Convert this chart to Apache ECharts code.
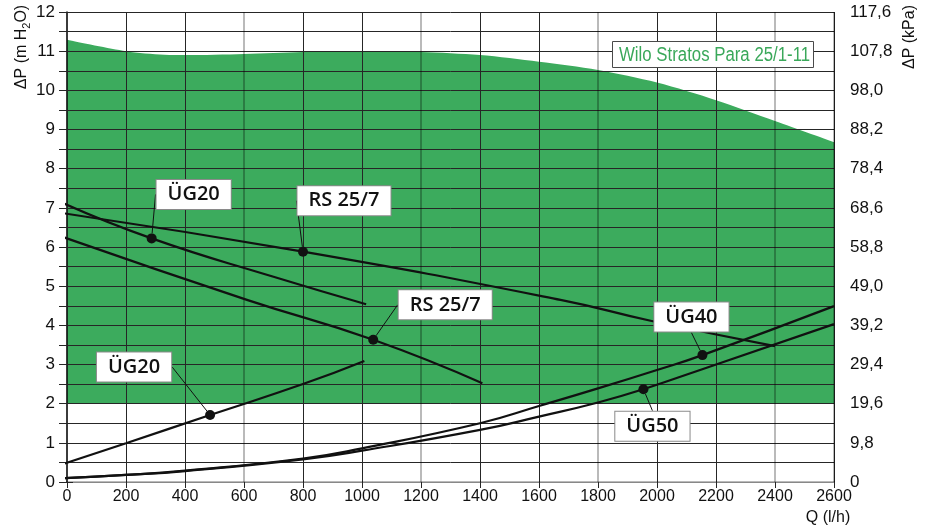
<!DOCTYPE html>
<html><head><meta charset="utf-8">
<script src="https://cdn.jsdelivr.net/npm/echarts@6/dist/echarts.min.js"></script>
<style>html,body{margin:0;padding:0;background:#fff}#c{width:932px;height:529px}</style>
</head><body><div id="c"></div>
<script>
// ---- data ----
const kPaLabels = ['0','9,8','19,6','29,4','39,2','49,0','58,8','68,6','78,4','88,2','98,0','107,8','117,6'];
const pumpQ = [-12, 200, 330, 400, 600, 800, 1000, 1200, 1400, 1600, 1800, 2000, 2200, 2400, 2600];
const pumpH = [11.31, 11.0, 10.91, 10.9, 10.93, 10.98, 11.0, 10.98, 10.9, 10.73, 10.52, 10.2, 9.75, 9.22, 8.68];
const pumpMinH = 2;
const ug20aQ = [-25, 287, 700, 1014];
const ug20aH = [7.16, 6.22, 5.24, 4.54];
const rsAQ = [-20, 800, 1673, 1982, 2400];
const rsAH = [6.87, 5.88, 4.65, 4.11, 3.47];
const rsBQ = [-12, 610, 1038, 1408];
const rsBH = [6.25, 4.65, 3.63, 2.52];
const ug20bQ = [-45, 200, 485, 800, 1008];
const ug20bH = [0.38, 0.99, 1.71, 2.5, 3.09];
const ug40Q = [-10, 200, 400, 800, 1000, 1400, 1600, 1800, 2000, 2154, 2600];
const ug40H = [0.1, 0.18, 0.29, 0.6, 0.86, 1.5, 1.94, 2.39, 2.86, 3.24, 4.49];
const ug50Q = [-10, 200, 400, 800, 1000, 1400, 1600, 1800, 1954, 2188, 2600];
const ug50H = [0.1, 0.18, 0.28, 0.58, 0.8, 1.33, 1.67, 2.03, 2.37, 2.97, 4.03];
const markerQ = [287, 800, 1038, 485, 2154, 1954];
const markerH = [6.22, 5.88, 3.63, 1.71, 3.24, 2.37];
const markerNames = ['ÜG20', 'RS 25/7', 'RS 25/7', 'ÜG20', 'ÜG40', 'ÜG50'];
const legendText = 'Wilo Stratos Para 25/1-11';

// ---- layout / style ----
const labelOffsets = [[42,-44],[41,-51],[72,-35],[-76,-48],[-11,-38],[9,37]];
const GREEN = '#3cab5d';
const DARK = '#262626';
const GRAY = 'rgba(0,0,0,0.27)';
const F = 'Liberation Sans, Arial, sans-serif';
const zip = (q, h) => q.map((v, i) => [v, h[i]]);
const curve = (q, h) => ({
  type: 'line', data: zip(q, h), smooth: true, symbol: 'none', clip: false,
  lineStyle: { color: '#111', width: 2.2 }, z: 3, silent: true
});
const ySplitColors = Array.from({length: 25}, (_, i) => i === 0 ? GRAY : DARK);

const chart = echarts.init(document.getElementById('c'));
chart.setOption({
  animation: false,
  grid: { left: 67, right: 98, top: 12, bottom: 47 },
  xAxis: [{
    type: 'value', min: 0, max: 2600, interval: 200,
    axisLine: { show: true, lineStyle: { color: GRAY, width: 2 } },
    axisTick: { show: true, length: 6, lineStyle: { color: DARK } },
    axisLabel: { fontFamily: F, fontSize: 16, color: '#111', margin: 7, formatter: v => String(v) },
    splitLine: { show: true, lineStyle: { color: ['rgba(0,0,0,0)', DARK, DARK], width: 1 } }
  }, {
    type: 'value', min: 0, max: 2600, interval: 600, position: 'bottom',
    axisLine: { show: false }, axisTick: { show: false }, axisLabel: { show: false },
    splitLine: { show: true, lineStyle: { color: GRAY, width: 2 } }
  }],
  yAxis: [{
    type: 'value', min: 0, max: 12, interval: 0.5,
    axisLine: { show: false },
    axisTick: { show: true, length: 8, lineStyle: { color: DARK } },
    axisLabel: { fontFamily: F, fontSize: 17, color: '#111', margin: 12,
      formatter: v => Number.isInteger(v) ? String(v) : '' },
    splitLine: { show: true, lineStyle: { color: ySplitColors, width: 1 } }
  }, {
    type: 'value', min: 0, max: 12, interval: 0.5, position: 'right',
    axisLine: { show: true, lineStyle: { color: '#111', width: 1.5 } },
    axisTick: { show: true, length: 6, lineStyle: { color: DARK } },
    axisLabel: { fontFamily: F, fontSize: 17, color: '#111', margin: 16,
      formatter: v => Number.isInteger(v) ? kPaLabels[v] : '' },
    splitLine: { show: false }
  }],
  graphic: [
    { type: 'text', x: 22, y: 47, rotation: Math.PI / 2, silent: true,
      style: { text: '{a|ΔP (m H}{s|2}{a|O)}', textAlign: 'center', textVerticalAlign: 'middle',
        rich: { a: { fontFamily: F, fontSize: 16, fill: '#111', lineHeight: 20 },
                s: { fontFamily: F, fontSize: 11, fill: '#111', lineHeight: 20, padding: [9, 0, 0, 0] } } } },
    { type: 'text', x: 910, y: 37, rotation: Math.PI / 2, silent: true,
      style: { text: 'ΔP (kPa)', font: '16px ' + F, fill: '#111', textAlign: 'center', textVerticalAlign: 'middle' } },
    { type: 'text', x: 828, y: 518, silent: true,
      style: { text: 'Q (l/h)', font: '16px ' + F, fill: '#111', textAlign: 'center', textVerticalAlign: 'middle' } },
    { type: 'rect', shape: { x: 612.5, y: 41.5, width: 201, height: 26 }, z: 10, silent: true,
      style: { fill: '#fff', stroke: '#4a4a4a', lineWidth: 1 } },
    { type: 'text', x: 619, y: 55, scaleX: 0.84, z: 11, silent: true,
      style: { text: legendText, font: '20px ' + F, fill: '#3aa85a', textAlign: 'left', textVerticalAlign: 'middle' } }
  ],
  series: [
    { type: 'line', data: zip(pumpQ, pumpH), symbol: 'none', clip: false, smooth: 0.3,
      lineStyle: { width: 0, opacity: 0 }, areaStyle: { color: GREEN, opacity: 1, origin: 'start' }, z: -3, silent: true },
    { type: 'line', data: pumpQ.map(q => [q, pumpMinH]), symbol: 'none', clip: false,
      lineStyle: { width: 0, opacity: 0 }, areaStyle: { color: '#fff', opacity: 1, origin: 'start' }, z: -2, silent: true },
    curve(ug20aQ, ug20aH),
    curve(rsAQ, rsAH),
    curve(rsBQ, rsBH),
    curve(ug20bQ, ug20bH),
    curve(ug40Q, ug40H),
    curve(ug50Q, ug50H),
    {
      type: 'scatter', symbolSize: 10, z: 5, silent: true,
      itemStyle: { color: '#111', opacity: 1 },
      data: markerQ.map((q, i) => ({ value: [q, markerH[i]], name: markerNames[i] })),
      label: {
        show: true, position: 'inside', formatter: '{b}', opacity: 1,
        fontFamily: 'Open Sans, sans-serif', fontWeight: 600, fontSize: 20, color: '#111',
        backgroundColor: '#fff', borderColor: '#8a8a8a', borderWidth: 1,
        padding: [4, 11, 3, 11], lineHeight: 22
      },
      labelLayout: p => ({ dx: labelOffsets[p.dataIndex][0], dy: labelOffsets[p.dataIndex][1] }),
      labelLine: { show: true, length2: 0, lineStyle: { color: '#111', width: 1, opacity: 1 } }
    }
  ]
});
</script></body></html>
